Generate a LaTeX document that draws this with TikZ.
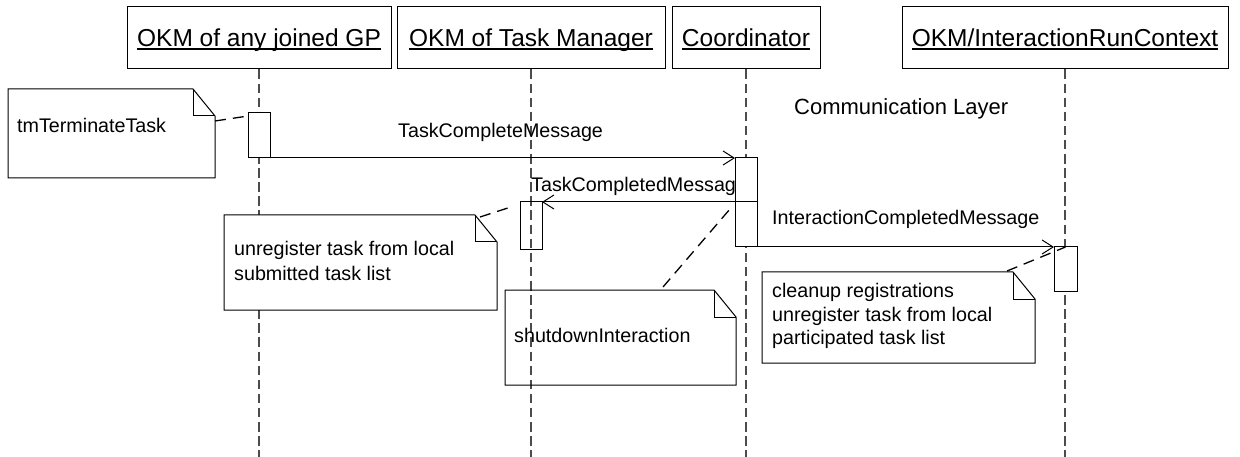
\documentclass[tikz,border=0pt]{standalone}
\usepackage{fontspec}
\setmainfont{Liberation Sans}
\usetikzlibrary{arrows.meta}
\newcommand\ulin[1]{\setbox0\hbox{#1}\rlap{\vrule height -1.4pt depth 2.6pt width \wd0}\box0}
\newcommand\notefold[2]{%
 \draw[line width=1pt, fill=#2] (#1.south west) -- (#1.north west) -- ([xshift=-22pt]#1.north east) -- ([yshift=-27pt]#1.north east) -- (#1.south east) -- cycle;
 \draw[line width=1pt] ([xshift=-22pt]#1.north east) |- ([yshift=-27pt]#1.north east);}
\begin{document}
\begin{tikzpicture}[x=1pt,y=-1pt,
  head/.style={draw, line width=1pt, minimum height=62pt, inner sep=0pt, text height=21pt, text depth=3pt, font=\fontsize{24.5}{29}\selectfont},
  life/.style={draw=black!70, line width=1.5pt, dash pattern=on 9.5pt off 4.6pt},
  act/.style={draw, line width=1pt, fill=white, inner sep=0pt, outer sep=0pt, anchor=north west},
  msg/.style={line width=1pt, -{Straight Barb[length=11pt,width=14pt]}},
  lbl/.style={inner sep=0pt, anchor=base west, font=\fontsize{19.7}{24}\selectfont},
  note/.style={inner sep=0pt, outer sep=0pt, anchor=north west},
  link/.style={line width=1.3pt, dash pattern=on 11pt off 7pt},
]
\useasboundingbox (0,0) rectangle (1240,457);
\fill[white] (0,0) rectangle (1240,457);
% heads
\node[head, minimum width=264pt] (gp) at (259,38) {\ulin{OKM of any joined GP}};
\node[head, minimum width=268pt] (tm) at (531,38) {\ulin{OKM of Task Manager}};
\node[head, minimum width=148pt] (co) at (746,38) {\ulin{Coordinator}};
\node[head, minimum width=326pt] (ir) at (1065,38) {\ulin{OKM/InteractionRunContext}};
% lifelines
\coordinate (bot) at (0,457);
\foreach \n in {gp,tm,co,ir} \draw[life] (\n.south) -- (\n.south |- bot);
% message labels
\node[lbl] (l1) at (398,138) {TaskCompleteMessage};
\node[lbl] (l2) at (531,192) {TaskCompletedMessage};
\node[lbl] (l3) at (772,225) {InteractionCompletedMessage};
\node[inner sep=0pt, anchor=base west, font=\fontsize{22}{26}\selectfont] (layer) at (794,115) {Communication Layer};
% activations
\node[act, minimum width=22pt, minimum height=45pt] (aGP) at (248,113) {};
\node[act, minimum width=22pt, minimum height=89pt] (aCO) at (735,158) {};
\node[act, fill=none, minimum width=22pt, minimum height=48pt] (aTM) at (520,202) {};
\node[act, minimum width=23pt, minimum height=44pt] (aIR) at (1054,247) {};
% messages
\draw[msg] (aGP.south east) -- (aCO.north west);
\draw[msg] (aCO.east |- aTM.north) -- (aTM.north east);
\draw[msg] (aCO.south east) -- (aIR.north west);
% notes
\node[note, minimum width=207pt, minimum height=89pt] (n1) at (8,89) {};
\node[note, minimum width=273pt, minimum height=95pt] (n2) at (224,215) {};
\node[note, minimum width=231pt, minimum height=95pt] (n3) at (505,290) {};
\node[note, minimum width=273pt, minimum height=91pt] (n4) at (762,272) {};
\notefold{n1}{white}
\notefold{n2}{white}
\notefold{n3}{none}
\notefold{n4}{white}
\node[lbl] (t1) at (17,133) {tmTerminateTask};
\node[lbl] (t2) at (234,255) {\vtop{\baselineskip=25pt\hbox{unregister task from local}\hbox{submitted task list}}};
\node[lbl] (t3) at (514,342) {shutdownInteraction};
\node[lbl] (t4) at (772,298) {\vtop{\baselineskip=23.5pt\hbox{cleanup registrations}\hbox{unregister task from local}\hbox{participated task list}}};
% note links
\draw[link] ([yshift=-32pt]n1.north east) -- ([yshift=-3pt]aGP.north west);
\draw[link] ([xshift=-17pt,yshift=-2pt]n2.north east) -- ([xshift=-6pt,yshift=-4pt]aTM.north west);
\draw[link] ([xshift=-73pt,yshift=3pt]n3.north east) -- ([xshift=-5pt,yshift=-51pt]aCO.north west);
\draw[link] ([xshift=-28pt,yshift=1pt]n4.north east) -- (aIR.north);
\end{tikzpicture}
\end{document}
